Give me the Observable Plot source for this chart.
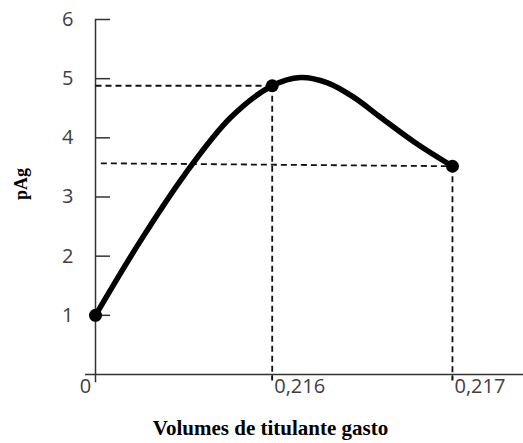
<!DOCTYPE html>
<html>
<head>
<meta charset="utf-8">
<script src="https://cdn.jsdelivr.net/npm/d3@7"></script>
<script src="https://cdn.jsdelivr.net/npm/@observablehq/plot@0.6"></script>
<style>
  html, body { margin: 0; padding: 0; background: #fff; }
  #chart svg { display: block; }
</style>
</head>
<body>
<div id="chart"></div>
<script>
// Schematic x positions (index units) and their labels
const xTickPos = [0, 0.99, 2];
const xTickLabels = ["0", "0,216", "0,217"];
const yTicks = [1, 2, 3, 4, 5, 6];

// Titration curve (schematic), x in index units, y = pAg
const curveX = [0, 0.25, 0.50, 0.756, 0.99, 1.148, 1.30, 1.45, 1.60, 1.80, 2];
const curveY = [1.0, 2.25, 3.38, 4.34, 4.88, 5.02, 4.93, 4.68, 4.34, 3.90, 3.52];

// Marked points
const markX = [0, 0.99, 2];
const markY = [1.0, 4.88, 3.52];

const xTitle = "Volumes de titulante gasto";
const yTitle = "pAg";

const curve = curveX.map((x, i) => ({x, y: curveY[i]}));
const marks = markX.map((x, i) => ({x, y: markY[i]}));
const guides = [
  {x1: 0, y1: markY[1], x2: markX[1], y2: markY[1]},
  {x1: 0.03, y1: 3.57, x2: markX[2], y2: markY[2]},
  {x1: markX[1], y1: markY[1], x2: markX[1], y2: -0.1},
  {x1: markX[2], y1: markY[2], x2: markX[2], y2: -0.1}
];
const xt = xTickPos.map((x, i) => ({x, label: xTickLabels[i], i}));

const labelFont = "'Open Sans', 'Liberation Sans', sans-serif";
const serif = "'Liberation Serif', 'Times New Roman', serif";

const chart = Plot.plot({
  width: 523,
  height: 443,
  marginLeft: 95,
  marginRight: 0,
  marginTop: 19,
  marginBottom: 69,
  x: {domain: [0, 2.398], axis: null},
  y: {domain: [0, 6], axis: null},
  style: {background: "#fff", fontFamily: labelFont},
  marks: [
    // axes lines
    Plot.ruleX([0], {y1: -0.14, y2: 6, stroke: "#333", strokeWidth: 1.5}),
    Plot.ruleY([0], {x1: -0.056, x2: 2.398, stroke: "#333", strokeWidth: 1.5}),
    // y ticks (inward)
    Plot.ruleY(yTicks, {x1: 0, x2: 0.084, stroke: "#333", strokeWidth: 1.5}),
    // y tick labels
    Plot.axisY(yTicks, {anchor: "left", tickSize: 0, tickPadding: 22, tickFormat: "d", fontSize: 20, fill: "#404040", label: null}),
    // x small ticks
    Plot.ruleX(xTickPos.slice(1), {y1: 0, y2: -0.1, stroke: "#333", strokeWidth: 1.5}),
    // x tick labels
    Plot.text(xt.slice(0, 1), {x: "x", y: -0.2, text: "label", dx: -10, textAnchor: "middle", fontSize: 20, fill: "#404040"}),
    Plot.text(xt.slice(1), {x: "x", y: -0.2, text: "label", dx: 2, textAnchor: "start", fontSize: 20, fill: "#404040"}),
    // dashed guides
    Plot.link(guides, {x1: "x1", y1: "y1", x2: "x2", y2: "y2", stroke: "#111", strokeWidth: 1.8, strokeDasharray: "6,4"}),
    // curve
    Plot.line(curve, {x: "x", y: "y", curve: "catmull-rom", stroke: "#000", strokeWidth: 5.5, strokeLinecap: "round"}),
    Plot.dot(marks, {x: "x", y: "y", r: 6.5, fill: "#000"}),
    // titles
    Plot.text([xTitle], {frameAnchor: "bottom", dx: -39, dy: 60, fontFamily: serif, fontWeight: "bold", fontSize: 21, fill: "#000"}),
    Plot.text([yTitle], {frameAnchor: "left", dx: -74, dy: 3, rotate: -90, fontFamily: serif, fontWeight: "bold", fontSize: 18, fill: "#000"})
  ]
});
document.getElementById("chart").appendChild(chart);
</script>
</body>
</html>
